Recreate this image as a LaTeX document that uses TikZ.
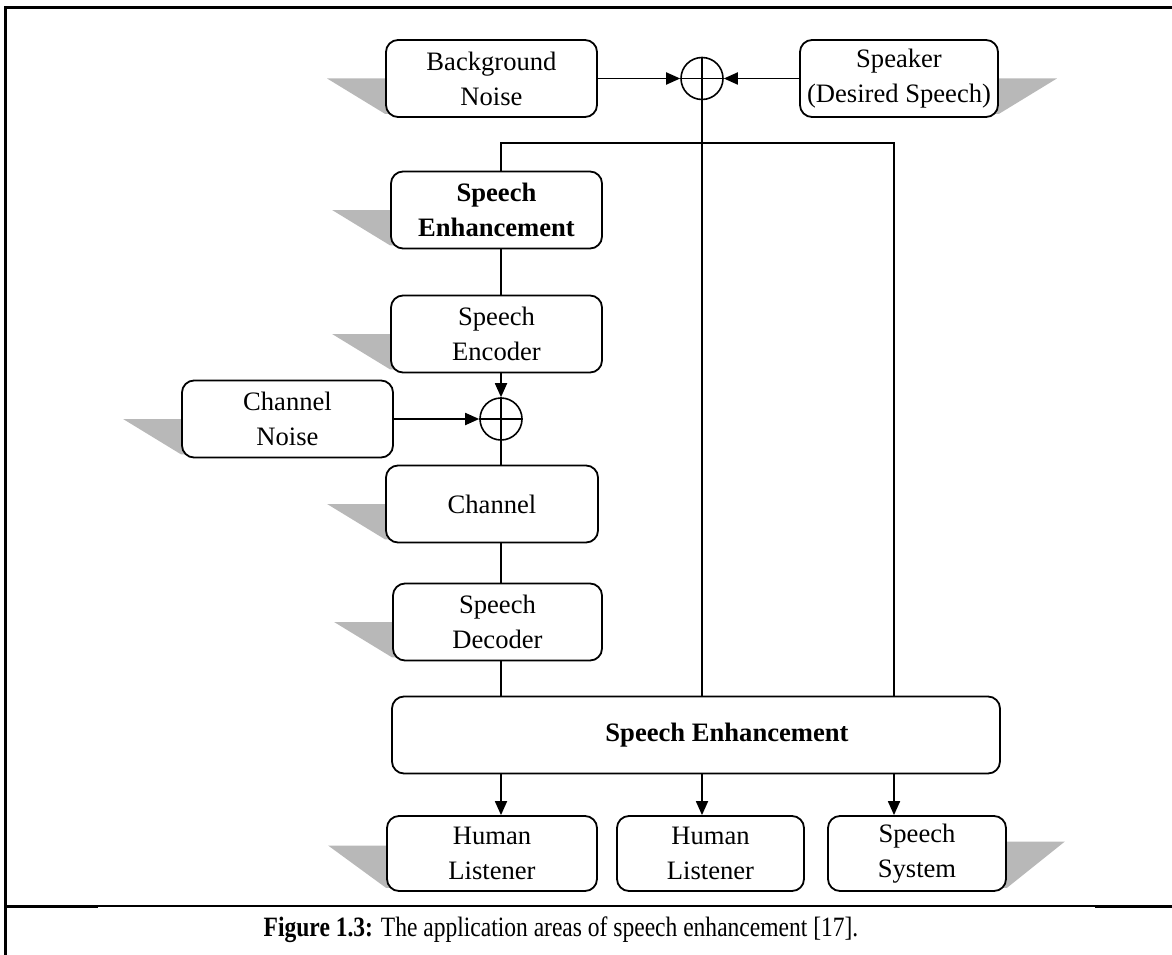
\documentclass[tikz,border=0pt]{standalone}
\usepackage{fontspec}
\setmainfont{Liberation Serif}
\newfontfamily\capfont[FakeStretch=0.84]{Liberation Serif}
\usetikzlibrary{arrows.meta,backgrounds}
\newcommand{\lshad}[2][0pt]{\fill[shadowc] ([xshift=-58pt,yshift=#1]#2.west) -- ([xshift=6pt,yshift=#1]#2.west) -- ([xshift=6pt,yshift=4pt]#2.south west) -- ([yshift=4pt]#2.south west) -- cycle;}
\newcommand{\rshad}[2][0pt]{\fill[shadowc] ([xshift=58pt,yshift=#1]#2.east) -- ([xshift=-6pt,yshift=#1]#2.east) -- ([xshift=-6pt,yshift=4pt]#2.south east) -- ([yshift=4pt]#2.south east) -- cycle;}
\begin{document}
\begin{tikzpicture}[x=1pt,y=-1pt,
  shadowc/.style={fill=black!28, draw=none},
  box/.style={draw, line width=1.8pt, rounded corners=12pt, fill=white, align=center,
    inner sep=0pt, font=\fontsize{26.6}{35}\selectfont, minimum height=77pt},
  bf/.style={font=\fontsize{26.6}{35}\selectfont\bfseries},
  sum/.style={draw, circle, line width=1.6pt, minimum size=42pt, inner sep=0pt},
  conn/.style={line width=1.8pt},
  arr/.style={conn, -{Triangle[length=14pt,width=12pt]}},
]
\useasboundingbox (0,0) rectangle (1172,955);

% frame
\draw[line width=3pt] (5,955) -- (5,8) -- (1172,8);
\draw[line width=1.5pt] (5,906) -- (1172,906);
\draw[line width=3pt] (5,906) -- (98,906) (1095,906) -- (1172,906);

% nodes
\node[box, minimum width=211pt] (bn) at (491.5,78.5) {Background\\Noise};
\node[box, minimum width=198pt] (sp) at (899,78.5) {Speaker\\(Desired Speech)};
\node[sum] (c1) at (702,78.5) {};
\node[box, bf, minimum width=211pt] (se1) at (496.5,210) {Speech\\Enhancement};
\node[box, minimum width=211pt] (enc) at (496.5,334) {Speech\\Encoder};
\node[sum] (c2) at (501,419) {};
\node[box, minimum width=211pt] (cn) at (287.5,419) {Channel\\Noise};
\node[box, minimum width=212pt] (ch) at (492,504) {Channel};
\node[box, minimum width=209pt] (dec) at (497.5,622) {Speech\\Decoder};
\node[box, bf, minimum width=608pt] (big) at (696,735) {\hspace*{62pt}Speech Enhancement};
\node[box, minimum width=210pt, minimum height=75pt] (h1) at (492,853.5) {Human\\Listener};
\node[box, minimum width=187pt, minimum height=75pt] (h2) at (710.5,853.5) {Human\\Listener};
\node[box, minimum width=178pt, minimum height=75pt] (ss) at (917,853.5) {Speech\\System};
\node[font=\capfont\fontsize{28}{32}\selectfont] (cap) at (561,930) {\textbf{Figure 1.3:} The application areas of speech enhancement [17].};

% shadows
\begin{scope}[on background layer]
\lshad{bn}
\rshad{sp}
\lshad{se1}
\lshad{enc}
\lshad{cn}
\lshad{ch}
\lshad{dec}
\lshad[8pt]{h1}
\rshad[12pt]{ss}
\end{scope}

% connectors
\coordinate (tl) at (501,143);
\coordinate (tr) at (894,143);
\draw[arr] (bn.east) -- (c1.west);
\draw[arr] (sp.west) -- (c1.east);
\draw[conn] (c1.west) -- (c1.east);
\draw[conn] (c1.north) -- (c1.south |- big.north);
\draw[conn] (tl |- se1.north) -- (tl) -- (tr) -- (tr |- big.north);
\draw[conn] (tl |- se1.south) -- (tl |- enc.north);
\draw[arr] (tl |- enc.south) -- (c2.north);
\draw[arr] (cn.east) -- (c2.west);
\draw[conn] (c2.west) -- (c2.east);
\draw[conn] (c2.north) -- (c2.south) -- (tl |- ch.north);
\draw[conn] (tl |- ch.south) -- (tl |- dec.north);
\draw[conn] (tl |- dec.south) -- (tl |- big.north);
\draw[arr] (tl |- big.south) -- (tl |- h1.north);
\draw[arr] (c1 |- big.south) -- (c1 |- h2.north);
\draw[arr] (tr |- big.south) -- (tr |- ss.north);
\end{tikzpicture}
\end{document}
